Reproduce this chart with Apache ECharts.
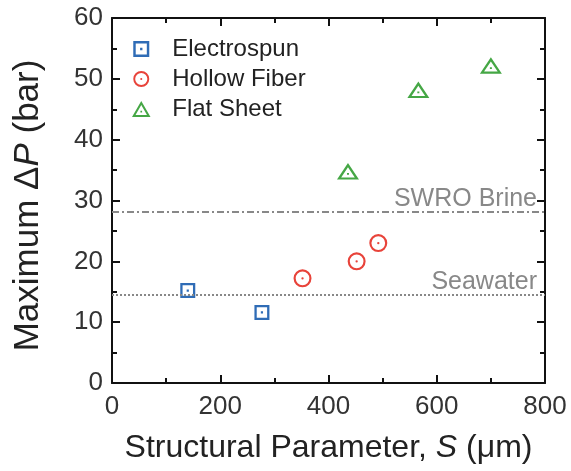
<!DOCTYPE html>
<html><head><meta charset="utf-8">
<script src="https://cdn.jsdelivr.net/npm/echarts@6/dist/echarts.min.js"></script>
<style>html,body{margin:0;padding:0;background:#fff}#c{width:571px;height:471px}</style>
</head><body><div id="c"></div>
<script>
const seriesNames = ['Electrospun', 'Hollow Fiber', 'Flat Sheet'];
const electrospun = [[140, 15.2], [277, 11.6]];
const hollowFiber = [[352, 17.2], [452, 20.0], [492, 23.0]];
const flatSheet = [[436, 34.8], [566, 48.2], [700, 52.2]];
const refLines = [{ name: 'SWRO Brine', value: 28.1 }, { name: 'Seawater', value: 14.5 }];
const xTicks = { min: 0, max: 800, interval: 200 };
const yTicks = { min: 0, max: 60, interval: 10 };

const F = 'Arial, "Liberation Sans", Helvetica, sans-serif';
const colors = ['#2f6cb6', '#e8433a', '#45a745'];
const sqPath = 'path://M0 0 L15 0 L15 15 L0 15 Z M2.3 2.3 L2.3 12.7 L12.7 12.7 L12.7 2.3 Z M6.4 6.4 L8.6 6.4 L8.6 8.6 L6.4 8.6 Z';
const cirPath = 'path://M0 10 A10 10 0 1 1 20 10 A10 10 0 1 1 0 10 Z M2.4 10 A7.6 7.6 0 1 0 17.6 10 A7.6 7.6 0 1 0 2.4 10 Z M8.7 10 A1.3 1.3 0 1 1 11.3 10 A1.3 1.3 0 1 1 8.7 10 Z';
const triPath = 'path://M11 0 L22 19 L0 19 Z M11 4.8 L4.2 16.6 L17.8 16.6 Z M10 11.6 L12 11.6 L12 13.6 L10 13.6 Z';

const chart = echarts.init(document.getElementById('c'));
function axisCommon() {
  return {
    axisLine: { show: true, onZero: false, lineStyle: { color: '#111', width: 2 } },
    axisTick: { show: true, inside: true, length: 8, lineStyle: { color: '#111', width: 2 } },
    minorTick: { show: true, splitNumber: 2, length: 5, lineStyle: { color: '#111', width: 2 } },
    splitLine: { show: false }
  };
}
chart.setOption({
  animation: false,
  grid: { left: 112, right: 26, top: 18, bottom: 88 },
  legend: {
    orient: 'vertical', left: 127, top: 32, itemWidth: 30, itemHeight: 16, itemGap: 6,
    data: seriesNames,
    textStyle: { fontFamily: F, fontSize: 24, color: '#222', padding: [0, 0, 0, 11], lineHeight: 24 }
  },
  xAxis: [
    Object.assign({
      type: 'value', min: xTicks.min, max: xTicks.max, interval: xTicks.interval, position: 'bottom',
      name: '{n|Structural Parameter, }{i|S}{n| (\u03bcm)}', nameLocation: 'middle', nameGap: 49,
      nameTextStyle: { rich: { n: { fontFamily: F, fontSize: 32, color: '#222' }, i: { fontFamily: F, fontSize: 32, fontStyle: 'italic', color: '#222' } } },
      axisLabel: { fontFamily: F, fontSize: 26, color: '#333', margin: 11 }
    }, axisCommon()),
    Object.assign({
      type: 'value', min: xTicks.min, max: xTicks.max, interval: xTicks.interval, position: 'top',
      axisLabel: { show: false }
    }, axisCommon())
  ],
  yAxis: [
    Object.assign({
      type: 'value', min: yTicks.min, max: yTicks.max, interval: yTicks.interval, position: 'left',
      name: '{n|Maximum \u0394}{i|P}{n| (bar)}', nameLocation: 'middle', nameGap: 66,
      nameTextStyle: { padding: [0, 10, 0, 0], rich: { n: { fontFamily: F, fontSize: 35, color: '#222' }, i: { fontFamily: F, fontSize: 35, fontStyle: 'italic', color: '#222' } } },
      axisLabel: { fontFamily: F, fontSize: 26, color: '#333', margin: 9 }
    }, axisCommon()),
    Object.assign({
      type: 'value', min: yTicks.min, max: yTicks.max, interval: yTicks.interval, position: 'right',
      axisLabel: { show: false }
    }, axisCommon())
  ],
  series: [
    {
      name: seriesNames[0], type: 'scatter', data: electrospun, symbol: sqPath, symbolSize: 15, symbolKeepAspect: true,
      itemStyle: { color: colors[0], opacity: 1 },
      markLine: {
        silent: true, symbol: ['none', 'none'],
        data: refLines.map((r, i) => ({
          name: r.name, yAxis: r.value,
          lineStyle: { color: '#888', width: 2, type: i === 0 ? [7, 3, 2, 3] : [2, 2] },
          label: { show: true, formatter: r.name, position: 'insideEndTop', fontFamily: F, fontSize: 25, color: '#888', distance: [8, 0] }
        }))
      }
    },
    { name: seriesNames[1], type: 'scatter', data: hollowFiber, symbol: cirPath, symbolSize: 18, symbolKeepAspect: true, itemStyle: { color: colors[1], opacity: 1 } },
    { name: seriesNames[2], type: 'scatter', data: flatSheet, symbol: triPath, symbolSize: [22, 19], symbolKeepAspect: true, itemStyle: { color: colors[2], opacity: 1 } }
  ]
});
</script></body></html>
